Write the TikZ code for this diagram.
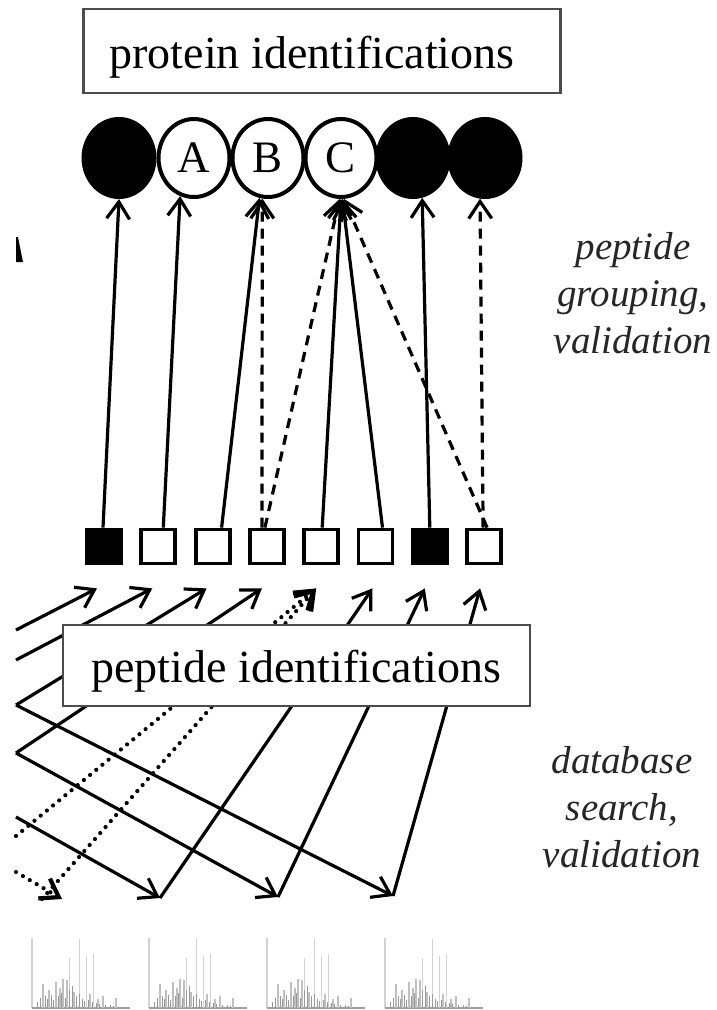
\documentclass[tikz,border=0pt]{standalone}
\usepackage{fontspec}
\setmainfont{Liberation Serif}
\usetikzlibrary{arrows.meta,shapes.geometric,calc}

\begin{document}
\begin{tikzpicture}[x=1pt,y=-1pt,
  link/.style={line width=3.2pt, -{Straight Barb[length=17pt,width=23pt]}},
  dashedlink/.style={link, dash pattern=on 10pt off 7pt},
  dottedlink/.style={link, line width=4.2pt, line cap=round, dash pattern=on 0pt off 8pt},
  labelbox/.style={draw=black!70, line width=2.4pt, fill=white, inner sep=0pt,
    font=\fontsize{46}{50}\selectfont, text height=44pt, text depth=10pt},
  protein/.style={ellipse, draw, line width=4pt, minimum width=71pt,
    minimum height=78pt, inner sep=0pt, fill=white, font=\fontsize{45}{50}\selectfont},
  hit/.style={protein, fill=black},
  pepbox/.style={rectangle, draw, line width=3.8pt, minimum size=34pt, inner sep=0pt, fill=white},
  pephit/.style={pepbox, fill=black},
  side/.style={font=\fontsize{39}{47}\selectfont\itshape, text=black!85, align=center, inner sep=0pt},
  spectrum/.pic={
    % axes
    \draw[gray!35, line width=1.3pt] (0,0) -- (0,-70);
    \draw[gray!75, line width=1.3pt] (0,0) -- (98,0);
    % tall peaks
    \foreach \px/\ph in {47.5/69, 37.5/50, 54.5/52, 61.5/54}
      \draw[gray!35, line width=1.2pt] (\px,0) -- ++(0,-\ph);
    % medium peaks
    \foreach \px/\ph in {11/24, 24/26, 31/29, 35/28, 17/18, 28/20, 42/16, 71/12, 84/10, 58/14, 66/9}
      \draw[gray!50, line width=1.1pt] (\px,0) -- ++(0,-\ph);
    % dense small peaks
    \foreach \px/\ph in {5/6, 8/10, 13/12, 15/9, 19/13, 21/8, 26/12, 29/15, 33/10, 37/18,
                         40/22, 44/12, 47/14, 50/9, 52/7, 56/8, 60/6, 64/5, 67/4, 73/3, 78/3, 81/2}
      \draw[gray!80, line width=1pt] (\px,0) -- ++(0,-\ph);
  },
]
\useasboundingbox (0,0) rectangle (717,1010);

% clipped mark at the left edge
\fill (16,237) -- (18,237) -- (23,262) -- (16,262) -- cycle;

% ---------------- spectra ----------------
\pic at (32,1008)  {spectrum};
\pic at (149,1008) {spectrum};
\pic at (267,1008) {spectrum};
\pic at (385,1008) {spectrum};

\coordinate (s1)  at (62,899);
\coordinate (s1b) at (42,899);
\coordinate (s2)  at (160,898);
\coordinate (s3)  at (278,897);
\coordinate (s4)  at (393,896);

% lines entering from the left
\coordinate (e1) at (16,630);
\coordinate (e2) at (16,660);
\coordinate (e3) at (16,705);
\coordinate (e4) at (16,753);
\coordinate (e5) at (16,817);
\coordinate (e6) at (16,836);
\coordinate (e7) at (16,872);

% ---------------- peptides ----------------
\node[pephit] (sq1) at (104,546.5) {};
\node[pepbox] (sq2) at (158.3,546.5) {};
\node[pepbox] (sq3) at (212.6,546.5) {};
\node[pepbox] (sq4) at (266.9,546.5) {};
\node[pepbox] (sq5) at (321.2,546.5) {};
\node[pepbox] (sq6) at (375.5,546.5) {};
\node[pephit] (sq7) at (429.8,546.5) {};
\node[pepbox] (sq8) at (484.1,546.5) {};

\coordinate (t1) at ($(sq1.south)+(-7,23)$);
\coordinate (t2) at ($(sq2.south)+(-6,23)$);
\coordinate (t3) at ($(sq3.south)+(-6,23)$);
\coordinate (t4) at ($(sq4.south)+(-5,23)$);
\coordinate (t5) at ($(sq5.south)+(-5,23)$);
\coordinate (t6) at ($(sq6.south)+(-3,23)$);
\coordinate (t7) at ($(sq7.south)+(-5,23)$);
\coordinate (t8) at ($(sq8.south)+(-4,23)$);

% database search links
\draw[link] (e3) -- (s4);
\draw[link] (e4) -- (s3);
\draw[link] (e5) -- (s2);
\draw[dottedlink] (e7) -- (s1);

\draw[link] (e1) -- (t1);
\draw[link] (e2) -- (t2);
\draw[link] (e3) -- (t3);
\draw[link] (e4) -- (t4);
\draw[dottedlink] (e6) -- (t5);
\draw[dottedlink] (s1b) -- (t5);
\draw[link] (s2) -- (t6);
\draw[link] (s3) -- (t7);
\draw[link] (s4) -- (t8);

\node[labelbox, minimum width=467pt, minimum height=81pt] (pept) at (296.5,665.5)
  {peptide identifications};

% ---------------- proteins ----------------
\node[labelbox, minimum width=477pt, minimum height=84pt] (prot) at (322,51)
  {protein identifications\rule{20pt}{0pt}};

\node[hit]     (c1) at (119,158) {};
\node[protein] (cA) at (194,158) {A};
\node[protein] (cB) at (268,158) {B};
\node[protein] (cC) at (341,158) {C};
\node[hit]     (c5) at (413,158) {};
\node[hit]     (c6) at (485,158) {};

% peptide grouping links
\draw[link] ($(sq1.north)+(-1,0)$) -- (c1.270);
\draw[link] ($(sq2.north)+(5,0)$) -- (cA.250);
\draw[link] ($(sq3.north)+(9,0)$) -- (cB.258);
\draw[dashedlink] ($(sq4.north)+(-5,0)$) -- (cB.262);
\draw[dashedlink] ($(sq4.north)+(-2,0)$) -- (cC.268);
\draw[link] ($(sq5.north)+(1,0)$) -- (cC.270);
\draw[link] ($(sq6.north)+(7,0)$) -- (cC.272);
\draw[link] (sq7.north) -- (c5.283);
\draw[dashedlink] ($(sq8.north)+(-1,0)$) -- (c6.263);
\draw[dashedlink] ($(sq8.north)+(3,0)$) -- (cC.274);

% ---------------- step labels ----------------
\node[side, anchor=base] (grp) at (633,353) {peptide\\grouping,\\validation};
\node[side, anchor=base] (dbs) at (622,867) {database\\search,\\validation};
\end{tikzpicture}
\end{document}
